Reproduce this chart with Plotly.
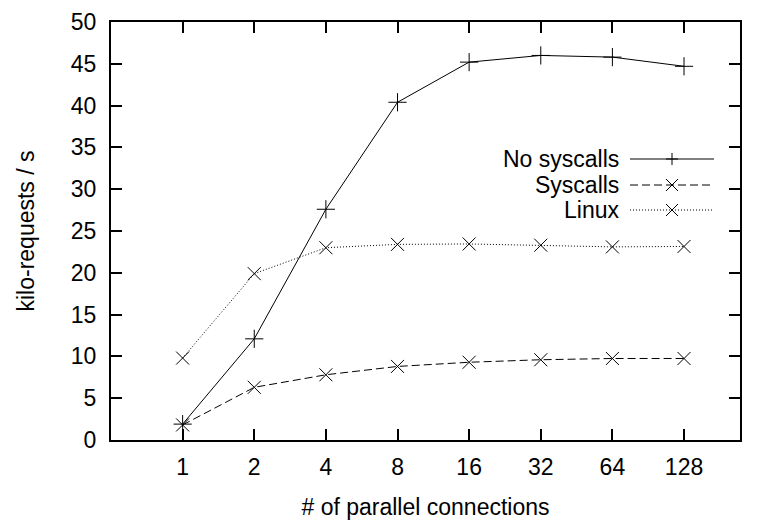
import plotly.graph_objects as go
import math

connections = [1, 2, 4, 8, 16, 32, 64, 128]
tick_labels = ["1", "2", "4", "8", "16", "32", "64", "128"]
no_syscalls = [1.9, 12.1, 27.6, 40.4, 45.2, 46.0, 45.8, 44.7]
syscalls = [1.8, 6.3, 7.8, 8.8, 9.3, 9.6, 9.75, 9.75]
linux = [9.8, 19.9, 23.0, 23.4, 23.45, 23.3, 23.1, 23.15]
series_names = ["No syscalls", "Syscalls", "Linux"]

FONT = "Liberation Sans, Arial, Helvetica, sans-serif"
FS = 23

# page body has an 8px margin; size figure so the plot area lands where the reference has it
W, H = 750, 512
L, R, T, B = 103, 18, 14, 80
pw, ph = W - L - R, H - T - B
OFF = 8  # page offset of the figure

fig = go.Figure()

styles = [
    dict(dash="solid", symbol="cross-thin-open"),
    dict(dash="8px,4px", symbol="x-thin-open"),
    dict(dash="1px,2px", symbol="x-thin-open"),
]
data = [no_syscalls, syscalls, linux]
for name, ys, st in zip(series_names, data, styles):
    fig.add_trace(go.Scatter(
        x=connections, y=ys, name=name, mode="lines+markers",
        line=dict(color="black", width=1, dash=st["dash"]),
        marker=dict(symbol=st["symbol"], size=13, color="black",
                    line=dict(color="black", width=1)),
        showlegend=False,
    ))

# manual gnuplot-style legend (positions given in page pixels)
def px2paper(x, y):
    return (x - OFF - L) / pw, (OFF + H - B - y) / ph

rows_y = [159, 185, 210]
text_right = 621
line_x0, line_x1, mark_x = 630, 714, 672
for name, st, ry in zip(series_names, styles, rows_y):
    tx, ty = px2paper(text_right, ry)
    fig.add_annotation(x=tx, y=ty, xref="paper", yref="paper", text=name,
                       showarrow=False, xanchor="right", yanchor="middle",
                       font=dict(family=FONT, size=FS, color="black"))
    x0, y0 = px2paper(line_x0, ry)
    x1, _ = px2paper(line_x1, ry)
    fig.add_shape(type="line", xref="paper", yref="paper", x0=x0, x1=x1, y0=y0, y1=y0,
                  line=dict(color="black", width=1, dash=st["dash"]))
    s = 6
    if st["symbol"].startswith("cross"):
        segs = [((mark_x - s, ry), (mark_x + s, ry)), ((mark_x, ry - s), (mark_x, ry + s))]
    else:
        segs = [((mark_x - s, ry - s), (mark_x + s, ry + s)), ((mark_x - s, ry + s), (mark_x + s, ry - s))]
    for (ax, ay), (bx, by) in segs:
        p0 = px2paper(ax, ay)
        p1 = px2paper(bx, by)
        fig.add_shape(type="line", xref="paper", yref="paper",
                      x0=p0[0], y0=p0[1], x1=p1[0], y1=p1[1],
                      line=dict(color="black", width=1))

fig.update_xaxes(
    type="log", range=[math.log10(0.5), math.log10(220)],
    tickvals=connections, ticktext=tick_labels,
    ticks="inside", ticklen=11, tickwidth=2, tickcolor="black",
    showline=True, linecolor="black", linewidth=2, mirror="ticks",
    showgrid=False, zeroline=False, automargin=False,
    ticklabeloverflow="allow",
    tickfont=dict(family=FONT, size=FS, color="black"),
    ticklabelstandoff=5,
    title=dict(text="# of parallel connections", font=dict(family=FONT, size=FS, color="black"), standoff=21),
)
fig.update_yaxes(
    range=[0, 50], tickvals=list(range(0, 51, 5)),
    ticks="inside", ticklen=11, tickwidth=2, tickcolor="black",
    showline=True, linecolor="black", linewidth=2, mirror="ticks",
    showgrid=False, zeroline=False, automargin=False,
    ticklabeloverflow="allow",
    tickfont=dict(family=FONT, size=FS, color="black"),
    ticklabelstandoff=8,
    title=dict(text="kilo-requests / s", font=dict(family=FONT, size=FS, color="black"), standoff=30),
)
fig.update_layout(
    width=W, height=H,
    margin=dict(l=L, r=R, t=T, b=B),
    paper_bgcolor="white", plot_bgcolor="white",
    font=dict(family=FONT, size=FS, color="black"),
)
fig.write_html("out.html")
